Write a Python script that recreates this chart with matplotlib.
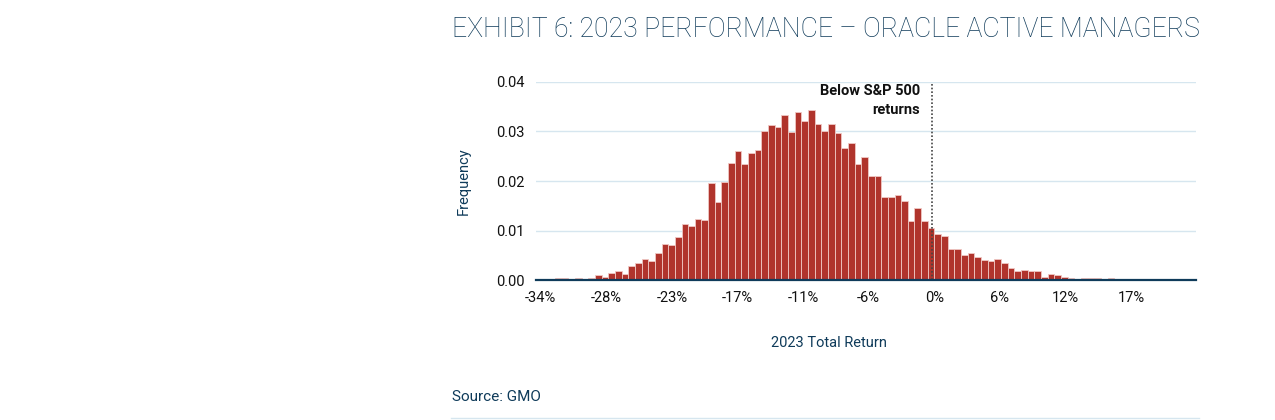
import numpy as np
import matplotlib
matplotlib.use("Agg")
import matplotlib.pyplot as plt

plt.rcParams["font.family"] = ["Roboto", "DejaVu Sans"]

# histogram frequencies, left to right (bin width ~0.575 pct-pts)
freq = [
    0.0001, 0.0001, 0.0002, 0.0004, 0.0004, 0.0003, 0.0004, 0.0002, 0.0005, 0.0010,
    0.0006, 0.0015, 0.0018, 0.0013, 0.0028, 0.0034, 0.0042, 0.0038, 0.0054, 0.0073,
    0.0071, 0.0088, 0.0114, 0.0110, 0.0123, 0.0121, 0.0197, 0.0158, 0.0199, 0.0236,
    0.0261, 0.0234, 0.0257, 0.0263, 0.0301, 0.0314, 0.0308, 0.0333, 0.0299, 0.0339,
    0.0321, 0.0343, 0.0316, 0.0300, 0.0316, 0.0296, 0.0267, 0.0276, 0.0234, 0.0248,
    0.0211, 0.0211, 0.0168, 0.0167, 0.0172, 0.0159, 0.0119, 0.0145, 0.0119, 0.0105,
    0.0093, 0.0089, 0.0062, 0.0062, 0.0050, 0.0055, 0.0046, 0.0040, 0.0039, 0.0042,
    0.0034, 0.0024, 0.0018, 0.0020, 0.0018, 0.0018, 0.0007, 0.0013, 0.0011, 0.0007,
    0.0005, 0.0001, 0.0005, 0.0004, 0.0004, 0.0001, 0.0004, 0.0002, 0.0001, 0.0001,
    0.0001, 0.0001, 0.0001, 0.0001, 0.0001, 0.0001, 0.0001,
]
first_center = -34.2
bin_width = 0.575
tick_labels = ["-34%", "-28%", "-23%", "-17%", "-11%", "-6%", "0%", "6%", "12%", "17%"]
sp500_line = -0.2

navy = "#0f3b5a"
fig = plt.figure(figsize=(12.75, 4.2), dpi=100)
ax = fig.add_axes([0.42, 0.333, 0.518, 0.472])

x = first_center + bin_width * np.arange(len(freq))
ax.bar(x, freq, width=bin_width, color="#b0342c", edgecolor="#f0c8c4", linewidth=0.6, zorder=3)

ax.set_xlim(-34.45, 22.6)
ax.set_ylim(0, 0.04)
ax.set_xticks(np.linspace(-34, 17, len(tick_labels)))
ax.set_xticklabels(tick_labels)
ax.set_yticks([0, 0.01, 0.02, 0.03, 0.04])
ax.set_yticklabels(["0.00", "0.01", "0.02", "0.03", "0.04"])
ax.tick_params(length=0, labelsize=10.5, colors="#111111", pad=8)
ax.grid(axis="y", color="#d6e6ef", linewidth=1, zorder=0)
for s in ["top", "right", "left"]:
    ax.spines[s].set_visible(False)
ax.spines["bottom"].set_color(navy)
ax.spines["bottom"].set_linewidth(1.6)
ax.spines["bottom"].set_zorder(4)

ax.axvline(sp500_line, color="#444444", linestyle=(0, (1, 1.2)), linewidth=1.2, zorder=4)
ax.text(sp500_line - 1.0, 0.0395, "Below S&P 500\nreturns", ha="right", va="top",
        fontsize=10.5, fontweight="bold", color="#111111", linespacing=1.4)

ax.set_xlabel("2023 Total Return", fontsize=10.5, color=navy)
ax.xaxis.set_label_coords(0.445, -0.28)
ax.set_ylabel("Frequency", fontsize=10.5, color=navy, labelpad=18)

fig.text(0.3545, 0.93, "EXHIBIT 6: 2023 PERFORMANCE \u2013 ORACLE ACTIVE MANAGERS",
         fontsize=19.2, color=navy, fontweight="light", va="center")
fig.text(0.3545, 0.055, "Source: GMO", fontsize=11, color=navy, va="center")
fig.add_artist(plt.Line2D([0.3535, 0.94], [0.005, 0.005], color="#d6e6ef", linewidth=1))

fig.savefig("out.png", dpi=100)
